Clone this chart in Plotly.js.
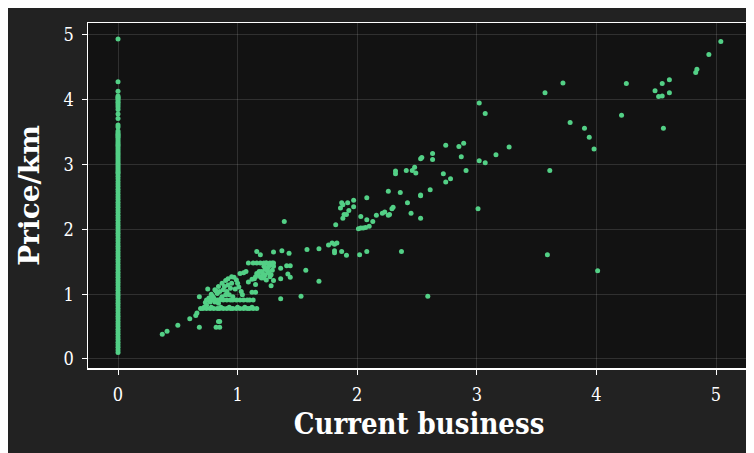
<!DOCTYPE html>
<html>
<head>
<meta charset="utf-8">
<script src="https://cdn.plot.ly/plotly-3.0.1.min.js"></script>
<style>
  html, body { background: #ffffff; overflow: hidden; }
  body { margin: 8px; }
  #chart { width: 754px; height: 453px; }
</style>
</head>
<body>
<div id="chart"></div>
<script>
// Price/km of entries with Current business = 0
const zeroPrice = [4.94, 4.28, 4.13, 4.06, 4.04, 4.02, 4.00, 3.97, 3.95, 3.92, 3.89, 3.85, 3.78, 3.71,
  3.61, 3.58, 3.52, 3.49, 3.47, 3.45, 3.43, 3.41, 3.38, 3.35, 3.32, 3.30, 3.27, 3.24, 3.21, 3.18,
  3.15, 3.12, 3.09, 3.06, 3.03, 3.00, 2.97, 2.94, 2.91, 2.88,
  2.86, 2.82, 2.78, 2.74, 2.70, 2.66, 2.62, 2.58, 2.54, 2.50, 2.46, 2.42, 2.38, 2.34, 2.30, 2.26,
  2.22, 2.18, 2.14, 2.10, 2.06, 2.02, 1.98, 1.94, 1.90, 1.86, 1.82, 1.78, 1.74, 1.70, 1.66, 1.62,
  1.58, 1.54, 1.50, 1.46, 1.42, 1.38, 1.34, 1.30, 1.26, 1.22, 1.18, 1.14, 1.10, 1.06, 1.02, 0.98,
  0.94, 0.90, 0.86, 0.82, 0.78, 0.74, 0.70, 0.66, 0.62, 0.58, 0.54, 0.50, 0.46, 0.42, 0.38, 0.34,
  0.30, 0.26, 0.22, 0.18, 0.14, 0.10];

// Remaining entries: Current business / Price per km
const business = [
  0.37, 0.41, 0.50, 0.60, 0.65, 0.66, 0.68, 0.68, 0.75, 0.82, 0.85, 0.84, 0.85,
  0.69, 0.71, 0.74, 0.77, 0.80, 0.83, 0.85, 0.88, 0.91, 0.94, 0.96, 0.99, 1.02, 1.05, 1.08, 1.10, 1.13, 1.16,
  0.72, 0.78, 0.86, 0.93, 1.00, 1.06, 1.12,
  0.74, 0.77, 0.80, 0.83, 0.85, 0.88, 0.91, 0.94, 0.96, 0.99, 1.02, 1.05, 1.08, 1.10, 1.13,
  1.12, 1.15,
  0.73, 0.76, 0.78, 0.81, 0.84, 0.87, 0.90, 0.92, 0.95, 0.97, 0.99, 1.00, 1.01, 1.03, 1.04,
  0.83, 0.85, 0.88, 0.91, 0.94, 0.87, 0.90, 0.81, 0.84, 0.92, 0.95, 0.80, 0.77, 0.74, 0.96,
  0.79, 0.86, 0.89, 0.93, 0.82, 0.98,
  1.02, 1.05, 1.07,
  1.09, 1.13, 1.16, 1.19, 1.22, 1.24, 1.27, 1.30,
  1.09, 1.12, 1.15, 1.17, 1.20, 1.23, 1.26, 1.29,
  1.19, 1.22, 1.24, 1.27, 1.23, 1.26, 1.29, 1.30, 1.22, 1.24, 1.16, 1.20, 1.25, 1.28, 1.18,
  1.14, 1.21, 1.27, 1.25,
  1.16, 1.19, 1.30, 1.30, 1.28, 1.15,
  1.36, 1.36, 1.41, 1.44, 1.42, 1.44, 1.37, 1.43, 1.39, 1.53, 1.36, 1.57, 1.58, 1.68, 1.68,
  1.76, 1.79, 1.81, 1.83, 1.81, 1.81, 1.87, 1.91, 2.02, 2.08, 1.82,
  1.87, 1.88, 1.86, 1.92, 1.93, 1.91, 1.89, 1.88, 1.97, 1.97, 2.08, 2.03, 2.08, 2.16, 2.13,
  2.21, 2.23, 2.26, 2.27, 2.29, 2.30, 2.01, 2.03, 2.05, 2.07, 2.10,
  2.26, 2.36, 2.42, 2.45, 2.53, 2.61, 2.53, 2.53, 2.32, 2.32, 2.41, 2.46, 2.48, 2.49, 2.53,
  2.54, 2.63, 2.63, 2.72, 2.74, 2.74, 2.78, 2.85, 2.87, 2.89, 2.91, 3.02, 3.07, 3.02, 3.07,
  3.16, 3.27, 3.01, 2.59, 2.37,
  3.57, 3.72, 3.78, 3.90, 3.94, 3.98, 3.61, 3.59, 4.01, 4.21, 4.25, 4.49, 4.52, 4.55, 4.55,
  4.61, 4.61, 4.56, 4.83, 4.84, 4.94, 5.04];
const pricePerKm = [
  0.38, 0.43, 0.52, 0.62, 0.67, 0.71, 0.49, 0.96, 1.08, 0.49, 0.49, 0.58, 0.58,
  0.78, 0.78, 0.78, 0.78, 0.78, 0.78, 0.78, 0.78, 0.78, 0.78, 0.78, 0.78, 0.78, 0.78, 0.78, 0.78, 0.78, 0.78,
  0.80, 0.80, 0.80, 0.80, 0.80, 0.80, 0.80,
  0.91, 0.91, 0.91, 0.91, 0.91, 0.91, 0.91, 0.91, 0.91, 0.91, 0.91, 0.91, 0.91, 0.91, 0.91,
  1.03, 1.03,
  0.87, 0.94, 1.00, 1.07, 1.12, 1.17, 1.21, 1.24, 1.27, 1.26, 1.22, 1.17, 1.11, 1.04, 0.99,
  1.01, 1.04, 1.07, 1.04, 1.09, 0.96, 0.99, 0.88, 0.86, 1.14, 1.17, 0.94, 0.88, 0.83, 0.96,
  0.97, 0.93, 1.12, 0.99, 1.05, 1.08,
  1.32, 1.33, 1.35,
  1.48, 1.48, 1.48, 1.48, 1.48, 1.48, 1.48, 1.48,
  1.19, 1.23, 1.27, 1.31, 1.35, 1.38, 1.43, 1.48,
  1.27, 1.25, 1.22, 1.27, 1.30, 1.33, 1.37, 1.43, 1.43, 1.48, 1.32, 1.25, 1.40, 1.30, 1.35,
  1.24, 1.31, 1.45, 1.36,
  1.66, 1.61, 1.65, 1.21, 1.13, 1.15,
  1.40, 1.24, 1.44, 1.44, 1.31, 1.26, 1.67, 1.63, 2.12, 0.97, 0.93, 1.37, 1.69, 1.70, 1.20,
  1.76, 1.79, 1.77, 1.79, 1.67, 1.64, 1.66, 1.60, 1.61, 1.66, 2.07,
  2.41, 2.38, 2.33, 2.41, 2.29, 2.23, 2.23, 2.17, 2.45, 2.35, 2.49, 2.20, 2.15, 2.22, 2.12,
  2.25, 2.27, 2.22, 2.23, 2.32, 2.34, 2.01, 2.02, 2.02, 2.03, 2.05,
  2.59, 2.57, 2.41, 2.25, 2.17, 2.61, 2.52, 2.53, 2.90, 2.86, 2.91, 2.91, 2.96, 2.87, 3.09,
  3.11, 3.17, 3.08, 2.86, 3.30, 2.73, 2.78, 3.28, 3.12, 3.33, 2.91, 3.95, 3.79, 3.06, 3.03,
  3.15, 3.27, 2.32, 0.97, 1.66,
  4.11, 4.26, 3.65, 3.56, 3.42, 3.24, 2.91, 1.61, 1.36, 3.76, 4.25, 4.14, 4.05, 4.06, 4.25,
  4.31, 4.11, 3.56, 4.42, 4.47, 4.70, 4.90];

const xTicks = [0, 1, 2, 3, 4, 5];
const yTicks = [0, 1, 2, 3, 4, 5];

const xs = zeroPrice.map(() => 0).concat(business);
const ys = zeroPrice.concat(pricePerKm);

const trace = {
  type: 'scatter',
  mode: 'markers',
  x: xs,
  y: ys,
  marker: { color: '#53d086', size: 5, line: { width: 0 } },
  hoverinfo: 'x+y'
};

const tickFont = { family: '"DejaVu Serif Condensed", "DejaVu Serif", serif', size: 18, color: '#ffffff' };

const layout = {
  width: 754,
  height: 453,
  paper_bgcolor: '#222222',
  plot_bgcolor: '#121212',
  margin: { l: 80, r: 12, t: 15, b: 93 },
  showlegend: false,
  xaxis: {
    range: [-0.251, 5.284],
    tickvals: xTicks,
    ticktext: xTicks.map(String),
    showline: true, mirror: true, linecolor: '#ffffff', linewidth: 1.5,
    ticks: 'outside', ticklen: 5, tickcolor: '#ffffff', tickwidth: 1,
    showgrid: true, gridcolor: 'rgba(255,255,255,0.13)', gridwidth: 1,
    zeroline: false,
    tickfont: tickFont,
    ticklabelstandoff: 5,
    title: { text: 'Current business', standoff: 9,
      font: { family: '"DejaVu Serif Condensed", "DejaVu Serif", serif', size: 29, color: '#ffffff', weight: 'bold' } }
  },
  yaxis: {
    range: [-0.139, 5.185],
    tickvals: yTicks,
    ticktext: yTicks.map(String),
    showline: true, mirror: true, linecolor: '#ffffff', linewidth: 1.5,
    ticks: 'outside', ticklen: 5, tickcolor: '#ffffff', tickwidth: 1,
    showgrid: true, gridcolor: 'rgba(255,255,255,0.13)', gridwidth: 1,
    zeroline: false,
    tickfont: tickFont,
    ticklabelstandoff: 4,
    title: { text: 'Price/km', standoff: 16,
      font: { family: '"DejaVu Serif", serif', size: 28, color: '#ffffff', weight: 'bold' } }
  }
};

Plotly.newPlot('chart', [trace], layout, { displayModeBar: false, staticPlot: true });
</script>
</body>
</html>
